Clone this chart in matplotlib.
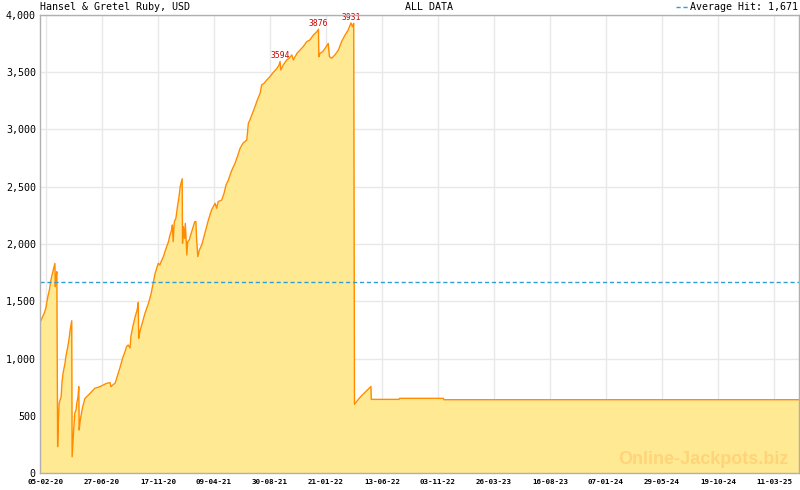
import matplotlib
matplotlib.use('Agg')
import matplotlib.pyplot as plt
from matplotlib.ticker import FixedLocator, MultipleLocator, FuncFormatter
from matplotlib.lines import Line2D

plt.rcParams['font.family'] = ['DejaVu Sans Mono']

# days since 21-01-2020, jackpot value (USD)
days = [
    0, 1, 7, 11, 15, 20, 24, 28, 32, 37,
    38, 39, 41, 43, 45, 47, 49, 54, 56, 59,
    64, 66, 71, 75, 77, 81, 82, 84, 86, 89,
    92, 94, 97, 99, 100, 103, 106, 109, 115, 128,
    140, 153, 166, 170, 179, 181, 192, 196, 204, 211,
    217, 221, 225, 230, 232, 237, 243, 248, 251, 252,
    255, 262, 268, 277, 283, 289, 294, 298, 302, 306,
    311, 315, 322, 328, 332, 336, 338, 340, 343, 347,
    351, 355, 358, 363, 364, 366, 369, 371, 375, 377,
    381, 385, 390, 395, 398, 400, 403, 407, 413, 421,
    430, 438, 447, 451, 455, 464, 470, 475, 481, 490,
    498, 504, 511, 518, 523, 528, 532, 536, 541, 549,
    555, 562, 566, 572, 579, 587, 596, 604, 610, 613,
    615, 621, 630, 636, 643, 647, 656, 664, 672, 681,
    689, 698, 707, 711, 712, 715, 722, 728, 736, 739,
    745, 753, 762, 770, 779, 787, 794, 798, 801, 803,
    817, 830, 845, 846, 917, 918, 1030, 1031, 1938,
]
jackpot = [
    1441, 1320, 1365, 1397, 1441, 1540, 1598, 1686, 1747, 1817,
    1830, 1627, 1714, 1758, 230, 463, 611, 666, 786, 873,
    961, 1016, 1103, 1190, 1249, 1330, 142, 262, 376, 524,
    550, 611, 666, 754, 376, 463, 524, 579, 652, 696,
    740, 754, 777, 783, 789, 754, 786, 830, 917, 1004,
    1059, 1103, 1118, 1092, 1190, 1278, 1365, 1424, 1490, 1176,
    1234, 1321, 1395, 1482, 1555, 1657, 1744, 1788, 1831, 1817,
    1860, 1889, 1963, 2020, 2079, 2122, 2166, 2020, 2195, 2224,
    2326, 2413, 2500, 2570, 2006, 2151, 2050, 2180, 1904, 2020,
    2035, 2079, 2137, 2195, 2195, 2035, 1889, 1948, 1991, 2093,
    2210, 2297, 2355, 2312, 2370, 2384, 2443, 2515, 2559, 2646,
    2705, 2763, 2836, 2879, 2894, 2908, 3054, 3083, 3127, 3199,
    3258, 3316, 3389, 3403, 3432, 3461, 3500, 3530, 3560, 3594,
    3520, 3563, 3607, 3622, 3651, 3607, 3665, 3694, 3723, 3767,
    3782, 3825, 3854, 3876, 3636, 3665, 3680, 3709, 3752, 3636,
    3622, 3651, 3694, 3767, 3825, 3869, 3931, 3898, 3927, 600,
    660, 705, 755, 643, 643, 652, 652, 640, 640,
]

peak_days = [613, 711, 794]
peak_values = [3594, 3876, 3931]

tick_days = [15 + 143 * k for k in range(14)]
tick_labels = ['05-02-20', '27-06-20', '17-11-20', '09-04-21', '30-08-21',
               '21-01-22', '13-06-22', '03-11-22', '26-03-23', '16-08-23',
               '07-01-24', '29-05-24', '19-10-24', '11-03-25']
average_hit = 1671

FILL = '#ffe992'
LINE = '#ff8c00'
AVG = '#2e9fd4'
GRID = '#e8e8e8'
SPINE = '#b0b0b0'

fig = plt.figure(figsize=(8, 4.9), dpi=100)
ax = fig.add_axes([40 / 800, 1 - 473 / 490, 759 / 800, 458 / 490])

ax.fill_between(days, jackpot, 0, color=FILL, linewidth=0, zorder=2)
ax.plot(days, jackpot, color=LINE, linewidth=1.0, zorder=3)
ax.axhline(average_hit, color=AVG, linewidth=1.0, linestyle=(0, (3, 2)), zorder=4)

for d, v in zip(peak_days, peak_values):
    ax.annotate(str(v), (d, v), xytext=(0, 1), textcoords='offset points',
                ha='center', va='bottom', fontsize=5.8, color='#cc0000', zorder=5)

ax.set_xlim(0, 1938)
ax.set_ylim(0, 4000)
ax.xaxis.set_major_locator(FixedLocator(tick_days))
ax.xaxis.set_minor_locator(MultipleLocator(143 / 7))
ax.set_xticklabels(tick_labels, fontsize=5.4, fontweight='bold')
ax.yaxis.set_major_locator(MultipleLocator(500))
ax.yaxis.set_major_formatter(FuncFormatter(lambda v, p: f'{int(v):,}'))
ax.tick_params(axis='y', length=0, pad=3, labelsize=7.2)
ax.tick_params(axis='x', which='both', direction='in', length=4, color=SPINE, pad=4)
ax.grid(True, color=GRID, linewidth=1.0, zorder=0)
ax.set_axisbelow(True)
for s in ax.spines.values():
    s.set_color(SPINE)
    s.set_linewidth(1.0)
    s.set_zorder(6)

fig.text(40 / 800, 1 - 7 / 490, 'Hansel & Gretel Ruby, USD', fontsize=7.2, va='center', ha='left')
fig.text(429 / 800, 1 - 7 / 490, 'ALL DATA', fontsize=7.2, va='center', ha='center')
fig.text(798 / 800, 1 - 7 / 490, f'Average Hit: {average_hit:,}', fontsize=7.2, va='center', ha='right')
fig.add_artist(Line2D([676 / 800, 688 / 800], [1 - 7 / 490, 1 - 7 / 490], color=AVG,
                      linewidth=1.0, linestyle=(0, (3, 2)), transform=fig.transFigure))
fig.text(789 / 800, 1 - 464 / 490, 'Online-Jackpots.biz', fontsize=13, fontweight='bold',
         family='Liberation Sans', color='#ffd37a', ha='right', va='baseline', zorder=10)

fig.savefig('out.png', dpi=100, facecolor='white')
